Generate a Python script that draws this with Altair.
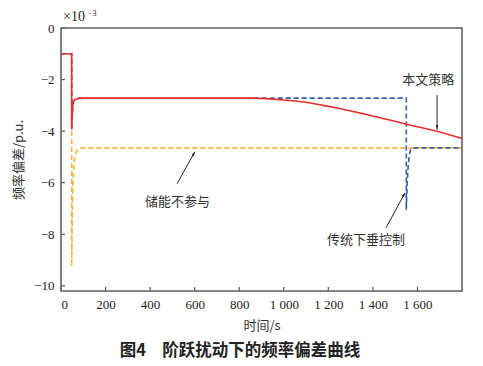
import math
import altair as alt
import pandas as pd

# ---- data ----
red_t = [0, 47.9, 48, 50, 53, 57, 62, 70, 80, 100, 300, 600, 800, 850, 900, 950, 1000, 1050,
         1100, 1150, 1200, 1250, 1300, 1350, 1400, 1450, 1500, 1550, 1600, 1650, 1700, 1750, 1800]
red_v = [-1, -1, -3.94, -3.4, -3.0, -2.84, -2.78, -2.75, -2.73, -2.72, -2.72, -2.72, -2.72, -2.72,
         -2.73, -2.76, -2.79, -2.83, -2.88, -2.96, -3.04, -3.12, -3.22, -3.31, -3.41, -3.52,
         -3.62, -3.73, -3.83, -3.93, -4.03, -4.16, -4.28]

blue_t = [0, 47.9, 48, 50, 53, 57, 62, 70, 80, 100, 600, 1000, 1400, 1549.9, 1550, 1553, 1558,
          1563, 1568, 1575, 1600, 1800]
blue_v = [-1, -1, -3.94, -3.4, -3.0, -2.84, -2.78, -2.75, -2.73, -2.72, -2.72, -2.72, -2.72,
          -2.72, -7.05, -6.2, -5.4, -4.95, -4.75, -4.66, -4.65, -4.65]

orange_t = [0, 47.9, 48, 49, 51, 54, 58, 63, 70, 78, 88, 100, 400, 1000, 1800]
orange_v = [-1, -1, -9.25, -8.4, -7.0, -5.9, -5.25, -4.95, -4.78, -4.7, -4.66, -4.65, -4.65,
            -4.65, -4.65]

x_ticks = [0, 200, 400, 600, 800, 1000, 1200, 1400, 1600]
y_ticks = [0, -2, -4, -6, -8, -10]

ann_text = ["本文策略", "储能不参与", "传统下垂控制"]
ann_tx = [1649, 523, 1369]
ann_ty = [-2.0, -6.73, -8.21]
arr_x0 = [1688, 521, 1459]
arr_y0 = [-2.6, -6.04, -7.75]
arr_x1 = [1688, 601, 1544]
arr_y1 = [-3.94, -4.8, -6.39]

# ---- layout ----
W, H = 401, 263
XD = [0, 1800]
YD = [-10.2, 0]
sx = W / (XD[1] - XD[0])
sy = H / (YD[1] - YD[0])

FONT_NUM = "Liberation Serif"
FONT_CJK = "Noto Sans CJK SC"

df = pd.concat([
    pd.DataFrame({"t": orange_t, "v": orange_v, "s": "储能不参与", "o": 0}),
    pd.DataFrame({"t": blue_t, "v": blue_v, "s": "传统下垂控制", "o": 1}),
    pd.DataFrame({"t": red_t, "v": red_v, "s": "本文策略", "o": 2}),
], ignore_index=True)

xs = alt.Scale(domain=XD, nice=False, zero=False)
ys = alt.Scale(domain=YD, nice=False, zero=False)

base_x_axis = alt.Axis(values=x_ticks, ticks=False, grid=False, domain=False,
                       labelFont=FONT_NUM, labelFontSize=13, labelColor="#222",
                       labelPadding=7, labelExpr="replace(format(datum.value, ','), ',', ' ')",
                       title="时间/s", titleFont=FONT_CJK, titleFontSize=13,
                       titleFontWeight="normal", titleColor="#333", titlePadding=8)
base_y_axis = alt.Axis(values=y_ticks, ticks=False, grid=False, domain=False,
                       labelFont=FONT_NUM, labelFontSize=13, labelColor="#222",
                       labelPadding=7, labelExpr="replace(format(datum.value, 'd'), '-', '−')",
                       title="频率偏差/p.u.", titleFont=FONT_CJK, titleFontSize=13,
                       titleFontWeight="normal", titleColor="#333", titlePadding=8)

def line(name, color, dash):
    d = df[df.s == name]
    kw = dict(color=color, strokeWidth=1.6, clip=True)
    if dash:
        kw["strokeDash"] = [5, 3]
    return alt.Chart(d).mark_line(**kw).encode(
        x=alt.X("t:Q", scale=xs, axis=base_x_axis),
        y=alt.Y("v:Q", scale=ys, axis=base_y_axis),
        order="t:Q",
    )

orange = line("储能不参与", "#f3b53f", True)
blue = line("传统下垂控制", "#2f5db0", True)
red = line("本文策略", "#e8302c", False)

# inward ticks
xt = alt.Chart(pd.DataFrame({"t": x_ticks})).mark_rule(color="#555", strokeWidth=1.2).encode(
    x=alt.X("t:Q", scale=xs), y=alt.value(H), y2=alt.value(H - 4))
yt = alt.Chart(pd.DataFrame({"v": y_ticks})).mark_rule(color="#555", strokeWidth=1.2).encode(
    y=alt.Y("v:Q", scale=ys), x=alt.value(0), x2=alt.value(4))

# annotations
ann = pd.DataFrame({"text": ann_text, "tx": ann_tx, "ty": ann_ty,
                    "x0": arr_x0, "y0": arr_y0, "x1": arr_x1, "y1": arr_y1})
ann["ang"] = [
    (math.degrees(math.atan2((x1 - x0) * sx, (y1 - y0) * sy)) + 360) % 360
    for x0, y0, x1, y1 in zip(arr_x0, arr_y0, arr_x1, arr_y1)
]

texts = alt.Chart(ann).mark_text(font=FONT_CJK, fontSize=13, color="#333").encode(
    x=alt.X("tx:Q", scale=xs), y=alt.Y("ty:Q", scale=ys), text="text:N")
shafts = alt.Chart(ann).mark_rule(color="#222", strokeWidth=1).encode(
    x=alt.X("x0:Q", scale=xs), y=alt.Y("y0:Q", scale=ys),
    x2="x1:Q", y2="y1:Q")
heads = alt.Chart(ann).mark_point(
    shape="M0,0 L-0.4,1.3 L0.4,1.3 Z", filled=True, color="#222", size=45, opacity=1
).encode(x=alt.X("x1:Q", scale=xs), y=alt.Y("y1:Q", scale=ys), angle=alt.Angle("ang:Q", scale=None))

# exponent label and caption
exp1 = alt.Chart(pd.DataFrame({"a": [0]})).mark_text(
    text="×10", font=FONT_NUM, fontSize=14, color="#222", align="left", baseline="middle"
).encode(x=alt.value(2), y=alt.value(-11))
exp2 = alt.Chart(pd.DataFrame({"a": [0]})).mark_text(
    text="−3", font=FONT_NUM, fontSize=8, color="#222", align="left", baseline="middle"
).encode(x=alt.value(27), y=alt.value(-14.5))
caption = alt.Chart(pd.DataFrame({"a": [0]})).mark_text(
    text="图4　阶跃扰动下的频率偏差曲线", font=FONT_CJK, fontSize=16.5, fontWeight="bold",
    color="#222", align="center", baseline="middle"
).encode(x=alt.value(179), y=alt.value(322.5))

# frame
frame = alt.Chart(pd.DataFrame({"a": [0]})).mark_rect(
    fill=None, stroke="#666", strokeWidth=1.6
).encode(x=alt.value(0), x2=alt.value(W), y=alt.value(0), y2=alt.value(H))

chart = alt.layer(
    orange, blue, red, xt, yt, shafts, heads, texts, exp1, exp2, caption, frame
).properties(
    width=W, height=H,
    autosize=alt.AutoSizeParams(type="none"),
    padding={"left": 53, "top": 20, "right": 13, "bottom": 72},
).configure_view(stroke=None).configure(background="white")

chart.save("out.html", embed_options={"renderer": "svg", "actions": False})
